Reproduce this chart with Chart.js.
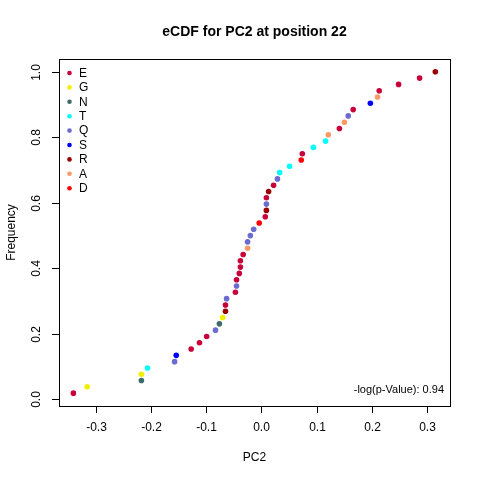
<!DOCTYPE html>
<html>
<head>
<meta charset="UTF-8">
<script src="https://cdn.jsdelivr.net/npm/chart.js"></script>
<style>
  html, body { margin: 0; padding: 0; background: #ffffff; }
  canvas { display: block; }
</style>
</head>
<body>
<canvas id="ecdf" width="480" height="480"></canvas>
<script>
// PC2 values at position 22, sorted, with the residue of each point
const pc2 = [-0.340, -0.315, -0.217, -0.217, -0.206, -0.157, -0.154, -0.127, -0.112, -0.099,
             -0.083, -0.076, -0.070, -0.065, -0.065, -0.063, -0.047, -0.045, -0.045, -0.040,
             -0.038, -0.038, -0.033, -0.025, -0.025, -0.020, -0.014, -0.004, 0.007, 0.009,
             0.009, 0.009, 0.013, 0.022, 0.029, 0.033, 0.051, 0.072, 0.074, 0.094,
             0.116, 0.121, 0.141, 0.150, 0.157, 0.166, 0.197, 0.210, 0.213, 0.248,
             0.286, 0.3145];
const residue = ['E','G','N','G','T','Q','S','E','E','E',
                 'Q','N','G','R','E','Q','E','Q','E','E',
                 'E','E','E','A','Q','Q','Q','D','E','R',
                 'Q','E','R','E','Q','T','T','D','E','T',
                 'T','A','E','A','Q','E','S','A','E','E',
                 'E','R'];

const legendLetters = ['E','G','N','T','Q','S','R','A','D'];
const legendColors  = ['#c8003a','#f0ef00','#3d6a6a','#00ffff','#6b6bd0','#0000ff','#9b0000','#ff9966','#ff0000'];

const xTicks = [-0.3, -0.2, -0.1, 0.0, 0.1, 0.2, 0.3];
const yTicks = [0.0, 0.2, 0.4, 0.6, 0.8, 1.0];
const pValueText = '-log(p-Value): 0.94';

const colorOf = {};
legendLetters.forEach((l, i) => colorOf[l] = legendColors[i]);

// empirical CDF: rank / n
const n = pc2.length;
const points = pc2.map((v, i) => ({ x: v, y: (i + 1) / n }));
const pointColors = residue.map(r => colorOf[r]);

const FONT = '"Liberation Sans", Arial, sans-serif';

const rAxes = {
  id: 'rAxes',
  afterDraw(chart) {
    const { ctx, chartArea: a, scales } = chart;
    const sx = scales.x, sy = scales.y;
    ctx.save();
    ctx.strokeStyle = '#000';
    ctx.lineWidth = 1;
    ctx.strokeRect(a.left + 0.5, a.top + 0.5, a.right - a.left, a.bottom - a.top);

    ctx.fillStyle = '#000';
    ctx.font = '12px ' + FONT;
    ctx.textAlign = 'center';
    ctx.textBaseline = 'middle';
    xTicks.forEach(t => {
      const px = Math.round(sx.getPixelForValue(t)) + 0.5;
      ctx.beginPath();
      ctx.moveTo(px, a.bottom);
      ctx.lineTo(px, a.bottom + 7);
      ctx.stroke();
      ctx.fillText(t.toFixed(1), px, 428);
    });
    yTicks.forEach(t => {
      const py = Math.round(sy.getPixelForValue(t)) + 0.5;
      ctx.beginPath();
      ctx.moveTo(a.left, py);
      ctx.lineTo(a.left - 7, py);
      ctx.stroke();
      ctx.save();
      ctx.translate(37, py);
      ctx.rotate(-Math.PI / 2);
      ctx.fillText(t.toFixed(1), 0, 0);
      ctx.restore();
    });

    // axis titles
    ctx.fillText('PC2', (a.left + a.right) / 2, 458);
    ctx.save();
    ctx.translate(12, (a.top + a.bottom) / 2);
    ctx.rotate(-Math.PI / 2);
    ctx.fillText('Frequency', 0, 0);
    ctx.restore();

    // title
    ctx.font = 'bold 14px ' + FONT;
    ctx.fillText('eCDF for PC2 at position 22', (a.left + a.right) / 2, 32);

    // legend
    ctx.font = '12px ' + FONT;
    ctx.textAlign = 'left';
    legendLetters.forEach((l, i) => {
      const ly = 73 + i * 14.4;
      ctx.fillStyle = legendColors[i];
      ctx.beginPath();
      ctx.arc(69.5, ly, 2.3, 0, Math.PI * 2);
      ctx.fill();
      ctx.fillStyle = '#000';
      ctx.fillText(l, 79, ly + 0.5);
    });

    // p-value note
    ctx.font = '11px ' + FONT;
    ctx.textAlign = 'right';
    ctx.fillText(pValueText, 444, 390);
    ctx.restore();
  }
};

new Chart(document.getElementById('ecdf'), {
  type: 'scatter',
  data: {
    datasets: [{
      data: points,
      pointBackgroundColor: pointColors,
      pointBorderWidth: 0,
      pointRadius: 2.8,
      pointHoverRadius: 2.8
    }]
  },
  options: {
    responsive: false,
    animation: false,
    devicePixelRatio: 1,
    layout: { padding: { left: 59, top: 59, right: 30, bottom: 74 } },
    scales: {
      x: { type: 'linear', display: false, min: -0.366, max: 0.341 },
      y: { type: 'linear', display: false, min: -0.020, max: 1.039 }
    },
    plugins: {
      legend: { display: false },
      tooltip: { enabled: false }
    }
  },
  plugins: [rAxes]
});
</script>
</body>
</html>
